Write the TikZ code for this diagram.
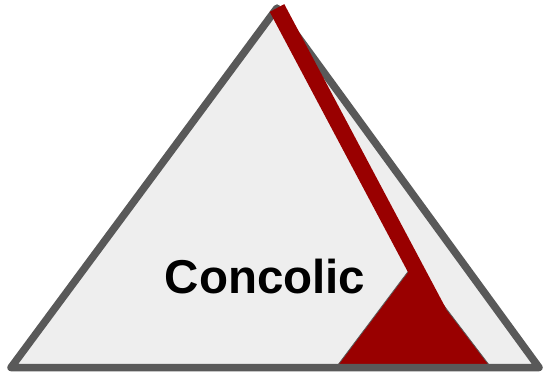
\documentclass[tikz,border=0pt]{standalone}
\definecolor{edgegray}{RGB}{89,89,89}
\definecolor{paleface}{RGB}{238,238,238}
\definecolor{darkred}{RGB}{153,0,0}
\usepackage{tikz}
\usepackage{fontspec}
\setmainfont{Liberation Sans}
\usetikzlibrary{calc}
\tikzset{
  outer/.style={draw=edgegray,line width=7.5pt,line join=round},
  inner/.style={fill=darkred,draw=edgegray,line width=0.8pt,line join=miter},
  spine/.style={draw=darkred,line width=16.5pt,line cap=butt},
  label/.style={font=\fontsize{47.5}{52}\selectfont\bfseries,anchor=base,inner sep=0pt},
}

\begin{document}
\begin{tikzpicture}[x=1pt,y=-1pt]
    \useasboundingbox (0,0) rectangle (545,373);

    % big triangle corners
    \coordinate (top)   at (277,8);
    \coordinate (left)  at (11,367.5);
    \coordinate (right) at (539,367.5);

    % small triangle corners
    \coordinate (stop)   at (413,265);
    \coordinate (sleft)  at (336,367.5);
    \coordinate (sright) at (491,367.5);
    % end of the red bar, inside the small triangle
    \coordinate (send)   at (438.5,312);

    \fill[paleface] (top) -- (left) -- (right) -- cycle;
    \path[inner] (stop) -- (sleft) -- (sright) -- cycle;
    \path[outer] (top) -- (left) -- (right) -- cycle;
    \path[spine] (top) -- (send);

    \node[label] (name) at (265,293) {Concolic};

  \end{tikzpicture}
\end{document}
